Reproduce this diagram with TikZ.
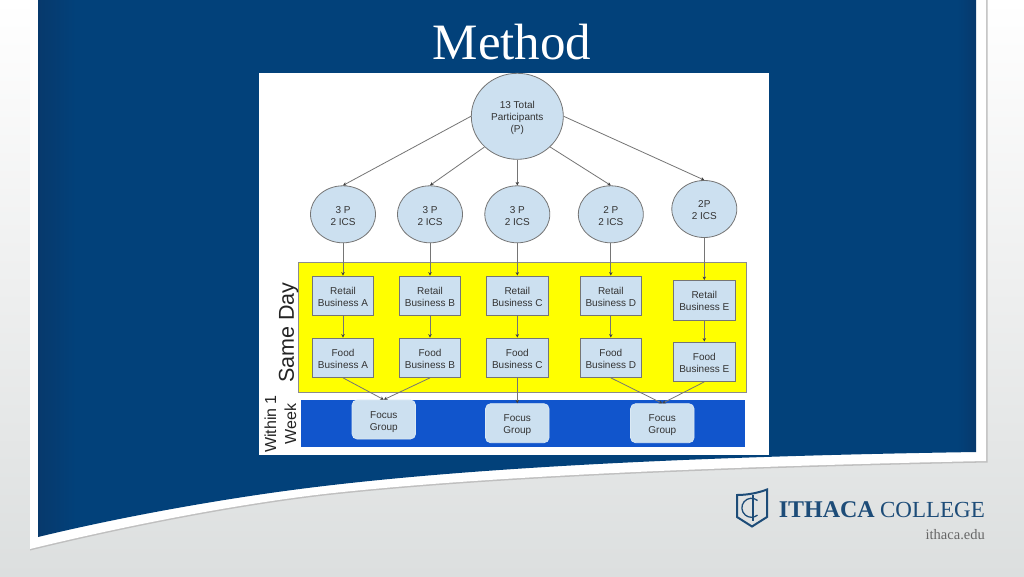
\documentclass[tikz,border=0pt]{standalone}
\usepackage{fontspec}
\setmainfont{Liberation Sans}
\newfontfamily\serifface{Liberation Serif}
\usetikzlibrary{shapes.geometric,arrows.meta}
\definecolor{nodefill}{HTML}{CCE0F0}
\definecolor{lineg}{HTML}{757575}
\definecolor{navy}{HTML}{02417A}
\definecolor{navyd}{HTML}{07396C}
\definecolor{bandblue}{HTML}{1155CC}
\definecolor{logoblue}{HTML}{1D4C78}
\definecolor{txt}{HTML}{333333}
\definecolor{pureyellow}{RGB}{255,255,0}
\definecolor{bgtop}{HTML}{FFFFFF}
\definecolor{bgmid}{HTML}{EEEFEF}
\definecolor{bgbot}{HTML}{DCDFDF}
\newcommand{\dropa}{\rule{0pt}{9.5pt}}
\newcommand{\dropb}{\rule{0pt}{10.5pt}}
\newcommand{\dropc}{\rule{0pt}{11.5pt}}
\pgfdeclarehorizontalshading{navyshade}{100bp}{color(0bp)=(navyd); color(25bp)=(navyd); color(27bp)=(navy); color(74bp)=(navy); color(75bp)=(navyd); color(100bp)=(navyd)}
\tikzset{
  bubble/.style={ellipse,draw=lineg,fill=nodefill,line width=.8pt,inner sep=0pt,minimum width=65pt,minimum height=57pt,align=center,font=\fontsize{10}{12}\selectfont,text=txt},
  topbubble/.style={bubble,minimum width=92pt,minimum height=86pt},
  bizbox/.style={rectangle,draw=lineg,fill=nodefill,line width=.8pt,inner sep=0pt,minimum width=61.5pt,minimum height=39.5pt,align=center,font=\fontsize{10}{12}\selectfont,text=txt},
  focusbox/.style={rectangle,rounded corners=5pt,draw=nodefill!70!white,fill=nodefill,line width=.7pt,inner sep=0pt,minimum width=63.5pt,minimum height=39pt,align=center,font=\fontsize{10}{12}\selectfont,text=txt},
  link/.style={draw=lineg,line width=.8pt,-{Stealth[length=3.5pt,width=3.5pt,black!75!white]}},
  sidelabel/.style={rotate=90,align=center,text=txt!70!black,inner sep=0pt},
}
\begin{document}
\begin{tikzpicture}[x=1pt,y=-1pt]
\useasboundingbox (0,0) rectangle (1024,576);
% slide background
\shade[top color=bgtop,bottom color=bgbot,middle color=bgmid] (0,0) rectangle (1024,576);
% shadow, white frame and navy panel
\fill[black!25!white] (32,0) -- (987.5,0) -- (987.5,462.5) .. controls (650,469.5) and (450,481.5) .. (324,495.5) .. controls (230,506.5) and (120,528.5) .. (30,550.5) -- cycle;
\fill[white] (30,0) -- (986,0) -- (986,461) .. controls (650,468) and (450,480) .. (324,494) .. controls (230,505) and (120,527) .. (30,549) -- cycle;
\shade[shading=navyshade] (38,0) -- (976,0) -- (976,452) .. controls (650,457) and (450,471) .. (324,486) .. controls (230,497) and (120,517) .. (38,537) -- cycle;
% title
\node[name=title,text=white,inner sep=0pt,font=\serifface\fontsize{51}{54}\selectfont] at (512,42) {Method};
% embedded picture
\fill[white] (259,73) rectangle (769,455);
\filldraw[fill=pureyellow,draw=black!45!white,line width=.7pt] (298.5,262) rectangle (746.8,392.7);
\fill[bandblue] (301,399.5) rectangle (744.5,446.7);
\node[sidelabel,name=sameday,font=\fontsize{21.5}{24}\selectfont] at (288.5,332.5) {Same Day};
\node[sidelabel,name=within,font=\fontsize{16}{20}\selectfont] at (280.5,424) {Within 1\\Week};
\node[topbubble,name=p] at (517.3,116.3) {\dropb 13 Total\\Participants\\(P)};
\node[bubble,name=c1] at (343,214.3) {\dropa 3 P\\2 ICS};
\node[bubble,name=c2] at (430,214.3) {\dropa 3 P\\2 ICS};
\node[bubble,name=c3] at (517.3,214.3) {\dropa 3 P\\2 ICS};
\node[bubble,name=c4] at (610.8,214.3) {\dropa 2 P\\2 ICS};
\node[bubble,name=c5] at (704.3,209) {\dropa 2P\\2 ICS};
\node[bizbox,name=r1] at (343,295.7) {\dropa Retail\\Business A};
\node[bizbox,name=r2] at (430,295.7) {\dropa Retail\\Business B};
\node[bizbox,name=r3] at (517.3,295.7) {\dropa Retail\\Business C};
\node[bizbox,name=r4] at (610.8,295.7) {\dropa Retail\\Business D};
\node[bizbox,name=r5] at (704.3,300.2) {\dropa Retail\\Business E};
\node[bizbox,name=f1] at (343,357.7) {\dropa Food\\Business A};
\node[bizbox,name=f2] at (430,357.7) {\dropa Food\\Business B};
\node[bizbox,name=f3] at (517.3,357.7) {\dropa Food\\Business C};
\node[bizbox,name=f4] at (610.8,357.7) {\dropa Food\\Business D};
\node[bizbox,name=f5] at (704.3,361.7) {\dropa Food\\Business E};
\node[focusbox,name=g1] at (383.8,419.5) {\dropc Focus\\Group};
\node[focusbox,name=g2] at (517.3,423.2) {\dropc Focus\\Group};
\node[focusbox,name=g3] at (662.3,423.2) {\dropc Focus\\Group};
\draw[link] (p.west) -- (c1.north);
\draw[link] (p.south west) -- (c2.north);
\draw[link] (p.south) -- (c3.north);
\draw[link] (p.south east) -- (c4.north);
\draw[link] (p.east) -- (c5.north);
\foreach \n in {1,...,5}{
  \draw[link] (c\n.south) -- (r\n.north);
  \draw[link] (r\n.south) -- (f\n.north);
}
\draw[link] (f1.south) -- (g1.north);
\draw[link] (f2.south) -- (g1.north);
\draw[link] (f3.south) -- (g2.north);
\draw[link] (f4.south) -- (g3.north);
\draw[link] (f5.south) -- (g3.north);
% college mark
\draw[logoblue,line width=2pt,line join=miter] (737,495) .. controls (747,495) and (758,493) .. (767,489.5) -- (767,517) -- (752,526.5) -- (737,517) -- cycle;
\draw[logoblue,line width=1.3pt] (753,495) -- (753,521);
\draw[logoblue,line width=1.3pt] (757.5,500.5) arc[start angle=-50,end angle=-310,radius=9.5];
\node[anchor=base east,inner sep=0pt,name=college,text=logoblue,font=\serifface\fontsize{23}{24}\selectfont] at (985,517) {COLLEGE};
\node[anchor=base east,inner sep=0pt,name=ithaca,text=logoblue,font=\serifface\bfseries\fontsize{24}{24}\selectfont] at (875,517) {ITHACA};
\node[anchor=base east,inner sep=0pt,name=edu,text=black!60!white,font=\serifface\fontsize{14.5}{16}\selectfont] at (985,539) {ithaca.edu};
\end{tikzpicture}
\end{document}
